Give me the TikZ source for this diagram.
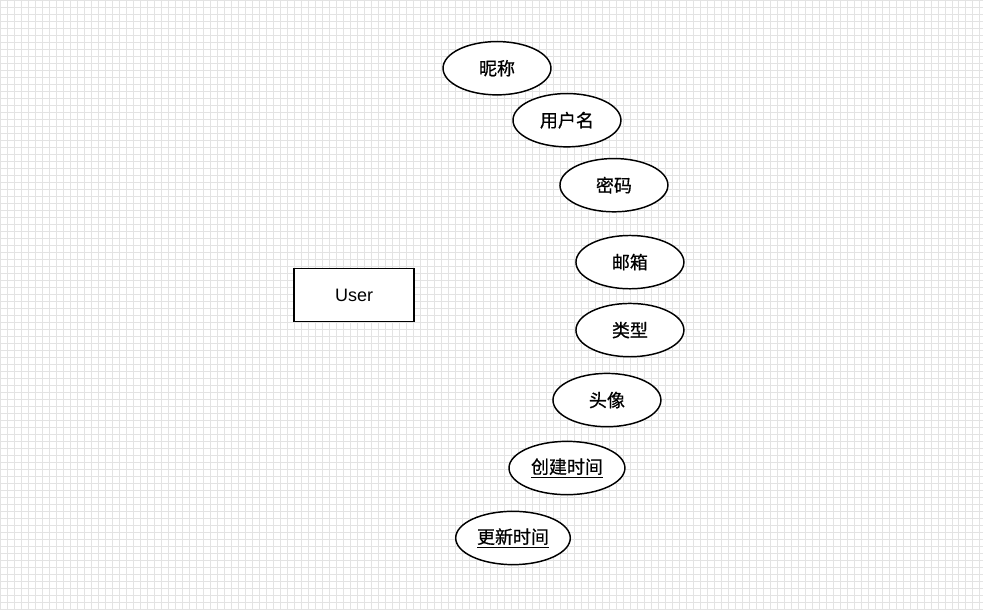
\documentclass[tikz,border=0pt]{standalone}
\usepackage{fontspec}
\setmainfont{Liberation Sans}
\newfontfamily\cjk[FakeBold=.6]{Noto Sans CJK SC}
\usetikzlibrary{shapes.geometric}

\tikzset{
	attr/.style={draw, ellipse, line width=1.1pt, fill=white, minimum width=81pt, minimum height=40pt, inner sep=0pt, font=\cjk\fontsize{13.5}{15}\selectfont},
	entity/.style={draw, rectangle, line width=1.1pt, fill=white, minimum width=90pt, minimum height=40pt, font=\fontsize{13.5}{15}\selectfont}
}

\begin{document}
\begin{tikzpicture}[x=.75pt, y=-.75pt]
				\fill[white] (0,0) rectangle (983,609);
				\draw[gray!22, line width=.4pt, step=5.25pt] (0,0) grid (983,609);
				\useasboundingbox (0,0) rectangle (983,609);
				\node[entity] (user) at (354,295) {User};
				\node[attr] (nicheng) at (497,68) {昵称};
				\node[attr] (yonghuming) at (567,120) {用户名};
				\node[attr] (mima) at (614,185) {密码};
				\node[attr] (youxiang) at (630,262) {邮箱};
				\node[attr] (leixing) at (630,330) {类型};
				\node[attr] (touxiang) at (607,400) {头像};
				\node[attr, minimum width=87pt] (chuangjian) at (567,468) {\underline{创建时间}};
				\node[attr, minimum width=86pt] (gengxin) at (513,538) {\underline{更新时间}};
			\end{tikzpicture}
\end{document}
